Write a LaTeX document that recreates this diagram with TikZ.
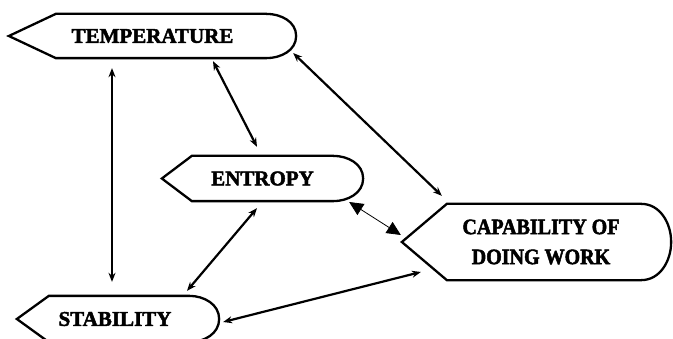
\documentclass[tikz,border=0pt]{standalone}
\usepackage{fontspec}
\usetikzlibrary{arrows.meta}
\newfontfamily\lblfont[FakeBold=2.2]{Liberation Serif Bold}
\newfontfamily\lblfontnarrow[FakeBold=2.2,FakeStretch=0.91]{Liberation Serif Bold}
\begin{document}
\begin{tikzpicture}[x=1pt,y=1pt,
  % display-type box: pointed left end, rounded right end
  dispbox/.style n args={3}{rectangle, inner sep=0pt, minimum width=#1, minimum height=#2,
    font=\lblfont\fontsize{21}{30}\selectfont, align=center,
    append after command={
      \pgfextra{\def\tipw{#3}}
      (\tikzlastnode.west) -- ([xshift=\tipw]\tikzlastnode.north west)
      -- ([xshift=-30pt]\tikzlastnode.north east)
      to[out=0,in=90] (\tikzlastnode.east)
      to[out=-90,in=0] ([xshift=-30pt]\tikzlastnode.south east)
      -- ([xshift=\tipw]\tikzlastnode.south west) -- cycle
    }},
  outline/.style={draw=black, line width=2.3pt, line join=miter},
  link/.style={line width=2.2pt, {Stealth[length=9pt,width=7pt]}-{Stealth[length=9pt,width=7pt]}},
  thinlink/.style={line width=0.8pt, {Triangle[length=14pt,width=13pt]}-{Triangle[length=14pt,width=13pt]}}
]
\useasboundingbox (0,0) rectangle (673,338);

\path[outline] node[dispbox={285pt}{42pt}{47pt}] (temp) at (152.5,302) {TEMPERATURE};
\path[outline] node[dispbox={199pt}{43pt}{30pt}] (entr) at (262.5,159.5) {ENTROPY};
\path[outline] node[dispbox={267pt}{74pt}{45pt}, font=\lblfontnarrow\fontsize{22}{30}\selectfont] (capa) at (536.5,96) {\hspace*{9pt}CAPABILITY OF\\\hspace*{9pt}DOING WORK};
\path[outline] node[dispbox={200pt}{44pt}{32pt}] (stab) at (118,19) {\hspace*{-6pt}STABILITY};

\draw[link] ([shift={(-40.5,-10)}]temp.south) -- ([shift={(-6,14)}]stab.north);
\draw[link] ([shift={(60.5,-3)}]temp.south) -- ([shift={(-5.5,9)}]entr.north);
\draw[link] ([shift={(-5.5,-7)}]entr.south) -- ([shift={(69,5)}]stab.north);
\draw[link] ([shift={(-3,-17)}]temp.east) -- ([shift={(40,8)}]capa.north west);
\draw[thinlink] ([shift={(-14,-23.5)}]entr.east) -- ([shift={(-1,7)}]capa.west);
\draw[link] ([shift={(4,-3)}]stab.east) -- ([shift={(19,-30)}]capa.west);
\end{tikzpicture}
\end{document}
